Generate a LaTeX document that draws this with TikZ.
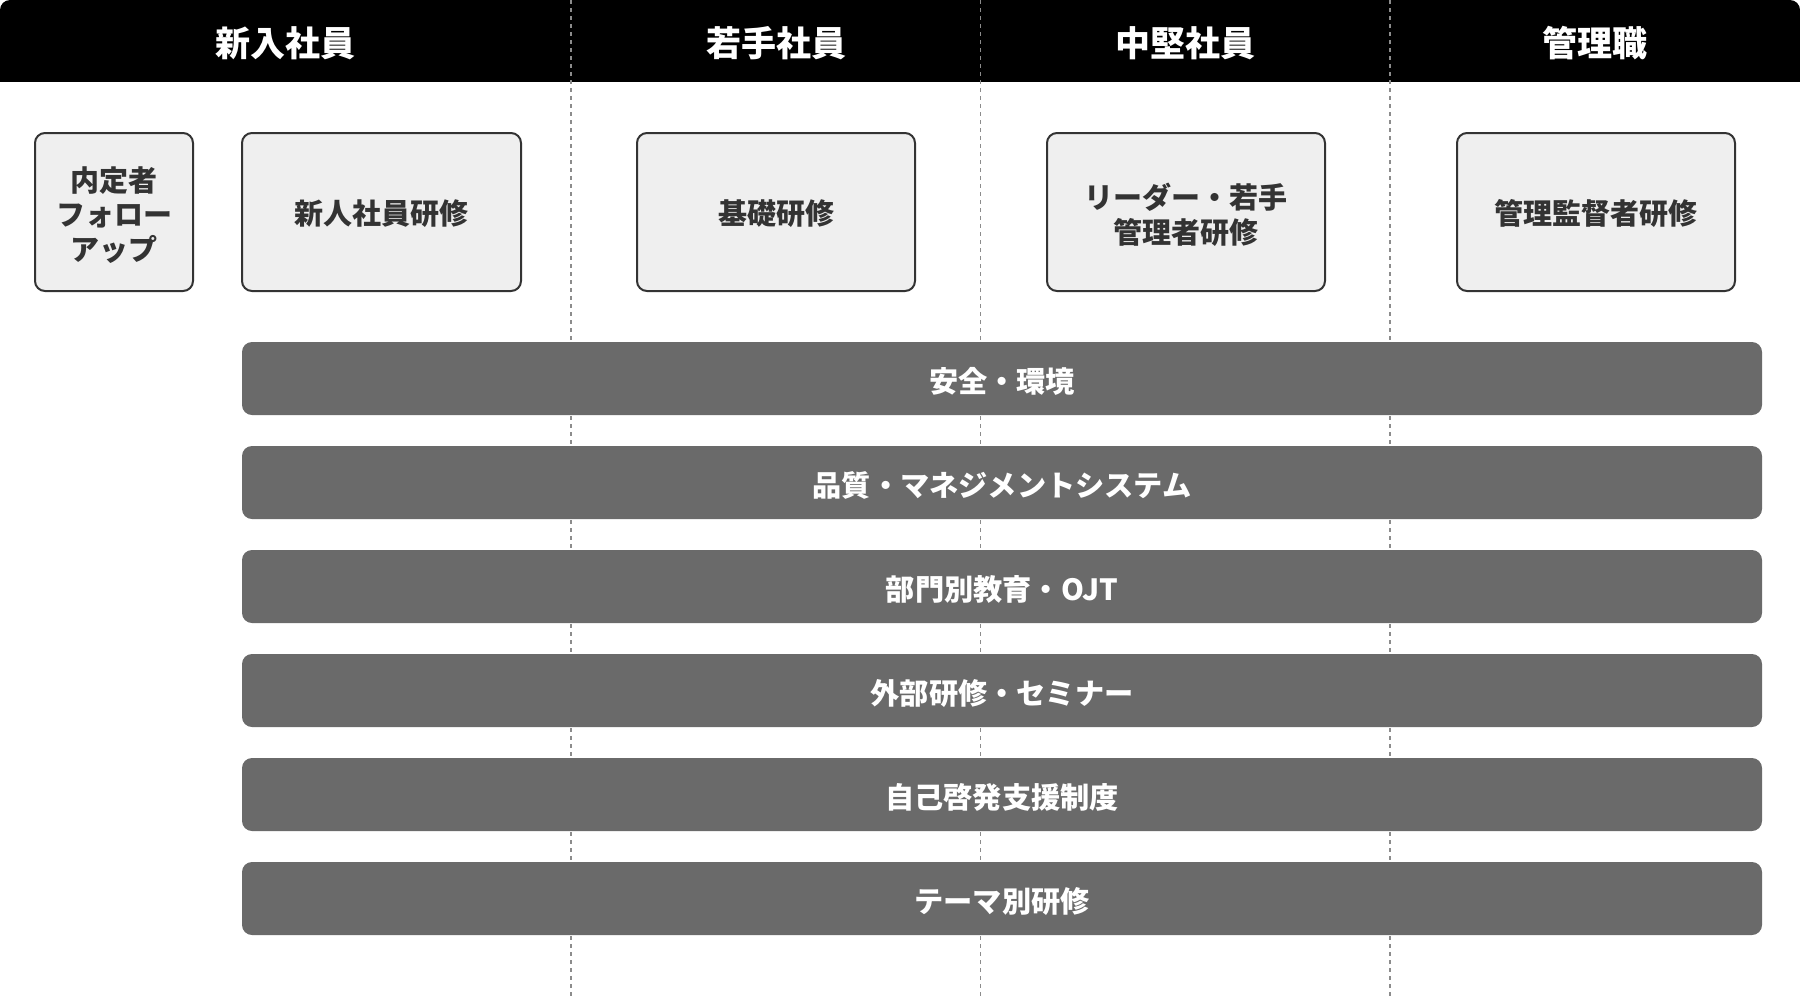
\documentclass[tikz,border=0pt]{standalone}
\usepackage{fontspec}
\setmainfont{Noto Sans CJK JP}
\definecolor{boxfill}{HTML}{EFEFEF}
\definecolor{boxline}{HTML}{333333}
\definecolor{barfill}{HTML}{6A6A6A}
\definecolor{sepcol}{HTML}{8C8C8C}
\newcommand{\boxlines}[1]{\raisebox{-3.2pt}[\height][\depth]{\begin{tabular}{@{}c@{}}#1\end{tabular}}}
\begin{document}
\begin{tikzpicture}[x=0.5pt,y=-0.5pt,
  colhead/.style={text=white,font=\bfseries\fontsize{17.5}{21}\selectfont,inner sep=0pt},
  sepline/.style={draw=sepcol,line width=0.75pt,dash pattern=on 2pt off 2pt},
  course/.style={draw=boxline,fill=boxfill,line width=1pt,rounded corners=5pt,
    minimum height=79pt,inner sep=0pt,text=boxline,
    font=\bfseries\fontsize{14.5}{16.9}\selectfont},
  oneline/.style={text height=12.8pt,text depth=0pt},
  bar/.style={fill=barfill,rounded corners=5pt,minimum width=760pt,minimum height=36.5pt,
    inner sep=0pt,text=white,font=\bfseries\fontsize{14.6}{17.5}\selectfont,
    text height=14pt,text depth=0pt}]
\useasboundingbox (0,0) rectangle (1800,997);
% header band
\fill[black,rounded corners=5pt] (0,0) rectangle (1800,81.5);
\fill[black] (0,40) rectangle (1800,81.5);
\node[colhead] (h1) at (285.5,43.5) {新入社員};
\node[colhead] (h2) at (776,43.5) {若手社員};
\node[colhead] (h3) at (1185.5,43.5) {中堅社員};
\node[colhead] (h4) at (1595,43.5) {管理職};
% column separators
\coordinate (s1t) at (571,0);   \coordinate (s1b) at (571,997);
\coordinate (s2t) at (980.5,0); \coordinate (s2b) at (980.5,997);
\coordinate (s3t) at (1390,0);  \coordinate (s3b) at (1390,997);
\draw[sepline] (s1t) -- (s1b);
\draw[sepline] (s2t) -- (s2b);
\draw[sepline] (s3t) -- (s3b);
% level courses
\node[course,minimum width=79pt] (b0) at (114,212) {\boxlines{内定者\\フォロー\\アップ}};
\node[course,oneline,minimum width=139.5pt] (b1) at (381.5,212) {新人社員研修};
\node[course,oneline,minimum width=139pt] (b2) at (776,212) {基礎研修};
\node[course,minimum width=139pt] (b3) at (1186,212) {\boxlines{リーダー・若手\\管理者研修}};
\node[course,oneline,minimum width=139pt] (b4) at (1596,212) {管理監督者研修};
% cross-level bars
\node[bar] (r1) at (1002,378.5) {安全・環境};
\node[bar] (r2) at (1002,482.5) {品質・マネジメントシステム};
\node[bar] (r3) at (1002,586.5) {部門別教育・OJT};
\node[bar] (r4) at (1002,690.5) {外部研修・セミナー};
\node[bar] (r5) at (1002,794.5) {自己啓発支援制度};
\node[bar] (r6) at (1002,898.5) {テーマ別研修};
\end{tikzpicture}
\end{document}
